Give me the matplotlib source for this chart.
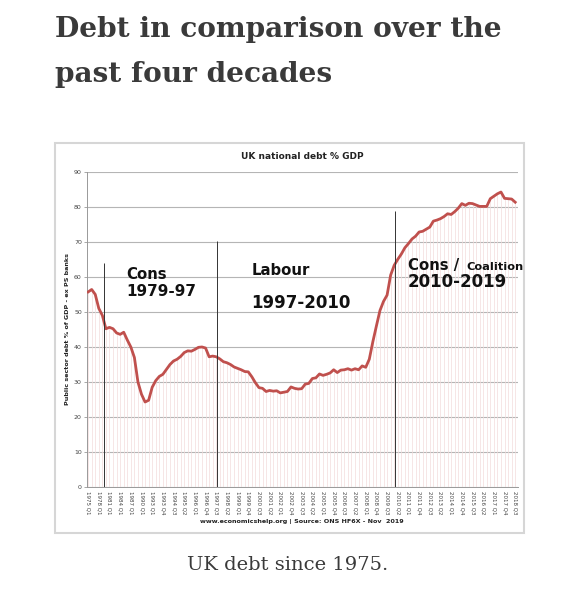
import matplotlib
matplotlib.use("Agg")
import matplotlib.pyplot as plt
from matplotlib.patches import Rectangle
import numpy as np

# ---- data ----
years_annual = list(range(1975, 1993))
quarters = []
for y in range(1993, 2019):
    for q in range(1, 5):
        if y == 2018 and q > 3:
            break
        quarters.append(f"{y} Q{q}")
categories = [f"{y} Q1" for y in years_annual] + quarters

debt_pct_gdp = [
    55.7, 56.4, 55.0, 51.0, 49.0, 45.2, 45.6, 45.2, 44.0, 43.6,
    44.2, 42.0, 40.0, 37.0, 30.0, 26.5, 24.3, 24.8, 28.5, 30.4,
    31.6, 32.2, 33.6, 35.0, 36.0, 36.5, 37.3, 38.4, 38.9, 38.8,
    39.3, 39.9, 40.0, 39.7, 37.2, 37.4, 37.2, 36.6, 35.8, 35.5,
    35.0, 34.3, 33.9, 33.5, 33.0, 32.9, 31.5, 29.8, 28.4, 28.2,
    27.3, 27.6, 27.4, 27.5, 26.9, 27.1, 27.3, 28.6, 28.2, 28.0,
    28.1, 29.4, 29.6, 31.0, 31.2, 32.3, 31.9, 32.2, 32.6, 33.5,
    32.7, 33.4, 33.5, 33.8, 33.4, 33.8, 33.5, 34.6, 34.2, 36.5,
    41.5, 46.0, 50.4, 53.0, 54.8, 60.5, 63.3, 65.0, 66.5, 68.3,
    69.5, 70.8, 71.6, 72.8, 73.0, 73.6, 74.2, 75.9, 76.2, 76.6,
    77.2, 78.0, 77.8, 78.6, 79.6, 80.9, 80.4, 81.0, 80.9, 80.5,
    80.1, 80.1, 80.1, 82.3, 83.0, 83.7, 84.2, 82.4, 82.3, 82.2,
    81.3,
]

# government change markers (category position, line top)
marker_pos = [4.5, 36.2, 86.3]
marker_top = [64.0, 70.3, 78.8]

W, H = 579, 600
fig = plt.figure(figsize=(W / 100, H / 100), dpi=100)

def fx(px):
    return px / W

def fy(py):
    return 1 - py / H

text_col = "#3a3a3a"

# page title
fig.text(fx(55), fy(37), "Debt in comparison over the", family="DejaVu Serif",
         weight="bold", fontsize=20.2, color=text_col, va="baseline", ha="left")
fig.text(fx(55), fy(82), "past four decades", family="DejaVu Serif",
         weight="bold", fontsize=20.2, color=text_col, va="baseline", ha="left")

# caption
fig.text(fx(288), fy(570), "UK debt since 1975.", family="DejaVu Serif",
         fontsize=14, color=text_col, va="baseline", ha="center")

# chart image frame
fig.patches.append(Rectangle((fx(55), fy(533)), fx(524) - fx(55), fy(143) - fy(533),
                             transform=fig.transFigure, fill=False,
                             edgecolor="#d6d6d6", linewidth=1.5))

ax = fig.add_axes([fx(86.7), fy(487.2), fx(517.7) - fx(86.7), fy(171.7) - fy(487.2)])
x = np.arange(len(categories))

ax.vlines(x, 0, debt_pct_gdp, color="#f3dcdc", linewidth=0.5, zorder=1)
ax.plot(x, debt_pct_gdp, color="#c0504d", linewidth=2.0, zorder=3,
        solid_joinstyle="round")
ax.vlines(marker_pos, 0, marker_top, color="#333333", linewidth=0.7, zorder=4)

ax.set_xlim(-0.4, len(categories) - 0.3)
ax.set_ylim(0, 90)
ax.set_yticks(range(0, 91, 10))
ax.yaxis.grid(True, color="#b5b5b5", linewidth=0.8)
ax.set_axisbelow(True)
ax.tick_params(axis="y", labelsize=4.5, length=2, width=0.6, color="#999999",
               labelcolor="#444444", pad=1.5)
tick_idx = list(range(0, len(categories), 3))
ax.set_xticks(tick_idx)
ax.set_xticklabels([categories[i] for i in tick_idx], rotation=-90,
                   fontsize=4.0, color="#444444")
ax.tick_params(axis="x", length=0, pad=3)
for s in ["top", "right"]:
    ax.spines[s].set_visible(False)
ax.spines["left"].set_color("#999999")
ax.spines["bottom"].set_color("#999999")
ax.spines["left"].set_linewidth(0.7)
ax.spines["bottom"].set_linewidth(0.7)

ax.set_ylabel("Public sector debt % of GDP - ex PS banks", fontsize=4.6,
              weight="bold", labelpad=3, color="#222222")

ax.set_title("UK national debt % GDP", fontsize=6.5, weight="bold",
             color="#222222", pad=9)

ann = dict(family="DejaVu Sans", weight="bold", color="#111111", va="baseline",
           ha="left", zorder=5)
ax.text(10.7, 59.4, "Cons", fontsize=10.7, **ann)
ax.text(10.7, 54.5, "1979-97", fontsize=11, **ann)
ax.text(45.8, 60.5, "Labour", fontsize=10.7, **ann)
ax.text(45.8, 51.1, "1997-2010", fontsize=12, **ann)
ax.text(89.9, 62.0, "Cons /", fontsize=10.7, **ann)
ax.text(106.2, 62.0, "Coalition", fontsize=8.2, **ann)
ax.text(89.9, 57.1, "2010-2019", fontsize=12, **ann)

fig.text(fx(302), fy(521), "www.economicshelp.org | Source: ONS HF6X - Nov  2019",
         fontsize=4.6, weight="bold", color="#222222", ha="center", va="center")

fig.savefig("out.png", dpi=100)
